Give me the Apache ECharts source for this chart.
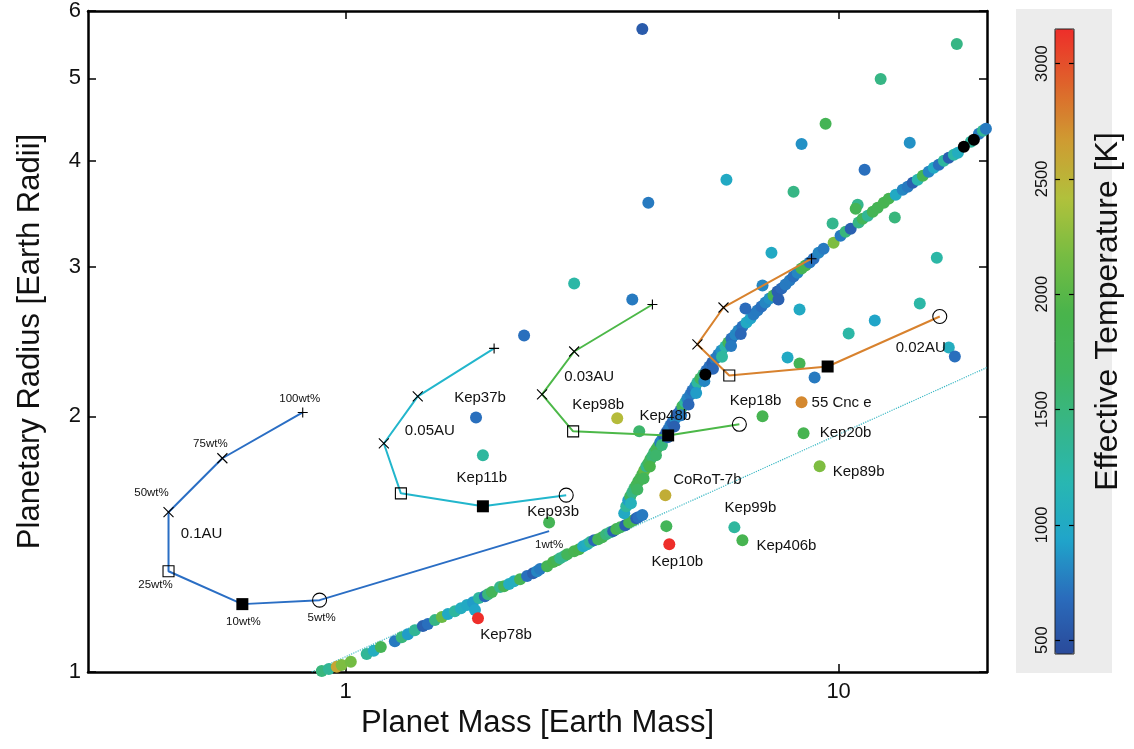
<!DOCTYPE html>
<html>
<head>
<meta charset="utf-8">
<script src="https://cdn.jsdelivr.net/npm/echarts@6/dist/echarts.min.js"></script>
<style>
  html, body { margin: 0; padding: 0; background: #ffffff; }
  #chart { width: 1134px; height: 749px; }
</style>
</head>
<body>
<div id="chart"></div>
<script>
// ---- Data: [mass (Earth masses), radius (Earth radii), effective temperature (K)] ----

// Low-mass branch of the simulated population (runs along the dotted relation)
const lowerBranch = [
  [0.894, 1.003, 1500], [0.924, 1.008, 1350], [0.959, 1.014, 2600], [0.981, 1.019, 2200],
  [1.024, 1.028, 2150], [1.103, 1.050, 1350], [1.140, 1.059, 1050], [1.178, 1.070, 1800],
  [1.258, 1.087, 750], [1.299, 1.099, 1500], [1.337, 1.108, 900], [1.381, 1.120, 1350],
  [1.434, 1.133, 600], [1.468, 1.139, 700], [1.517, 1.151, 1450], [1.567, 1.161, 2100],
  [1.612, 1.170, 1000], [1.665, 1.179, 1300], [1.713, 1.189, 1050], [1.762, 1.199, 1000],
  [1.812, 1.208, 900], [1.863, 1.222, 1300], [1.916, 1.228, 650], [1.944, 1.235, 1500],
  [1.980, 1.242, 1750], [2.056, 1.259, 1400], [2.095, 1.262, 1800], [2.145, 1.269, 1050],
  [2.195, 1.279, 1050], [2.258, 1.286, 1800], [2.333, 1.297, 700], [2.399, 1.307, 600],
  [2.444, 1.314, 800], [2.479, 1.322, 750], [2.562, 1.332, 1800], [2.635, 1.347, 1900],
  [2.685, 1.354, 1800], [2.723, 1.361, 1400], [2.775, 1.369, 1400], [2.814, 1.376, 1750],
  [2.907, 1.387, 1850], [2.975, 1.395, 1900], [3.032, 1.406, 1000], [3.090, 1.414, 1050],
  [3.133, 1.422, 1350], [3.192, 1.429, 650], [3.252, 1.433, 1750], [3.314, 1.441, 1800],
  [3.377, 1.453, 1500], [3.441, 1.461, 1400], [3.489, 1.465, 600], [3.539, 1.473, 1850],
  [3.606, 1.480, 1700], [3.690, 1.489, 600], [3.759, 1.500, 1800], [3.832, 1.509, 1800],
  [3.886, 1.517, 600], [3.923, 1.521, 700], [3.997, 1.530, 750]
];

// Steep branch of the simulated population (planets keeping part of their envelope)
const upperBranch = [
  [3.673, 1.538, 1000], [3.708, 1.567, 1300], [3.743, 1.593, 900], [3.778, 1.610, 1700],
  [3.814, 1.627, 1450], [3.850, 1.645, 1500], [3.886, 1.659, 1750], [3.923, 1.677, 1800],
  [3.960, 1.690, 1800], [3.997, 1.709, 1850], [4.034, 1.728, 2050], [4.073, 1.747, 1400],
  [4.111, 1.761, 1700], [4.150, 1.780, 1750], [4.188, 1.795, 1550], [4.227, 1.814, 1550],
  [4.267, 1.829, 1750], [4.306, 1.844, 1800], [4.347, 1.864, 750], [4.388, 1.879, 800],
  [4.429, 1.894, 600], [4.472, 1.915, 620], [4.512, 1.930, 700], [4.555, 1.951, 750],
  [4.598, 1.967, 650], [4.664, 1.989, 850], [4.707, 2.011, 600], [4.775, 2.032, 700],
  [4.819, 2.055, 1700], [4.887, 2.077, 1300], [4.933, 2.099, 800], [5.003, 2.122, 750],
  [5.050, 2.145, 700], [5.121, 2.169, 800], [5.170, 2.192, 1300], [5.242, 2.216, 1700],
  [5.317, 2.240, 1500], [5.392, 2.265, 700], [5.469, 2.289, 700], [5.544, 2.314, 600],
  [5.623, 2.339, 750], [5.703, 2.364, 750], [5.783, 2.390, 850], [5.892, 2.417, 1250],
  [5.975, 2.443, 1750], [6.061, 2.470, 700], [6.174, 2.496, 800], [6.262, 2.523, 800],
  [6.380, 2.551, 700], [6.502, 2.579, 1000], [6.624, 2.607, 950], [6.720, 2.636, 750],
  [6.845, 2.664, 750], [6.974, 2.693, 700], [7.106, 2.722, 800], [7.241, 2.752, 850],
  [7.377, 2.775, 1800], [7.516, 2.805, 600], [7.658, 2.828, 650], [7.803, 2.858, 750],
  [7.951, 2.889, 750], [8.101, 2.921, 700], [8.254, 2.952, 800], [8.410, 2.985, 1800],
  [8.568, 3.009, 1850], [8.733, 3.034, 750], [8.896, 3.066, 700], [9.106, 3.116, 800],
  [9.322, 3.150, 750], [9.768, 3.202, 2200], [10.09, 3.263, 750], [10.33, 3.299, 1500],
  [10.58, 3.325, 600], [10.98, 3.381, 1450], [11.19, 3.417, 1750], [11.46, 3.445, 1350],
  [11.73, 3.483, 1800], [12.00, 3.521, 1800], [12.35, 3.568, 1850], [12.64, 3.608, 1850],
  [13.06, 3.647, 1000], [13.49, 3.697, 800], [13.81, 3.727, 750], [14.14, 3.767, 600],
  [14.47, 3.798, 1200], [14.82, 3.839, 1800], [15.23, 3.881, 800], [15.60, 3.923, 1000],
  [15.97, 3.955, 700], [16.35, 3.998, 1300], [16.73, 4.031, 600], [17.13, 4.064, 1250],
  [17.46, 4.086, 1050], [18.55, 4.210, 1300], [19.26, 4.302, 750], [19.62, 4.336, 1350],
  [19.90, 4.361, 750],
  // members sitting on the flanks of the band where it is widest
  [3.790, 1.580, 1100], [3.905, 1.640, 1650], [4.020, 1.690, 1750], [4.140, 1.745, 1900],
  [4.260, 1.800, 1600], [4.380, 1.850, 1500], [4.500, 1.890, 700], [4.640, 1.945, 600],
  [4.790, 2.005, 750], [4.960, 2.065, 650], [5.140, 2.130, 900], [5.340, 2.200, 800],
  [5.560, 2.275, 650], [5.800, 2.350, 1300], [6.050, 2.420, 750], [6.330, 2.500, 650]
];

// Population members without a temperature (drawn in black)
const noTemperature = [
  [17.95, 4.153], [18.81, 4.232], [5.366, 2.240]
];

// Other observed planets
const fieldPlanets = [
  [3.997, 5.715, 560], [17.37, 5.488, 1450], [12.17, 4.991, 1450], [9.409, 4.420, 1800],
  [8.410, 4.185, 850], [13.94, 4.198, 850], [11.29, 3.903, 700], [5.921, 3.798, 1000],
  [8.101, 3.677, 1450], [4.111, 3.568, 750], [10.93, 3.549, 1400], [10.83, 3.511, 1800],
  [9.723, 3.372, 1400], [13.00, 3.427, 1500], [7.307, 3.116, 1000], [15.82, 3.074, 1250],
  [7.008, 2.851, 800], [3.814, 2.745, 750], [2.907, 2.867, 1250], [2.301, 2.489, 700],
  [6.471, 2.679, 680], [8.331, 2.672, 1000], [10.48, 2.503, 1250], [11.84, 2.593, 950],
  [14.61, 2.715, 1250], [16.73, 2.410, 1050], [17.21, 2.352, 700], [7.878, 2.346, 1000],
  [8.331, 2.308, 1800], [8.938, 2.222, 750], [7.551, 2.745, 600], [4.472, 1.485, 1750],
  [1.829, 1.183, 950]
];

// Named planets
const planetNames  = ['Kep37b', 'Kep11b', 'Kep93b', 'Kep98b', 'Kep48b', 'Kep18b', '55 Cnc e',
                      'Kep20b', 'Kep89b', 'CoRoT-7b', 'Kep99b', 'Kep406b', 'Kep10b', 'Kep78b'];
const planetMass   = [1.838, 1.898, 2.586, 3.555, 3.940, 7.008, 8.410, 8.489, 9.151, 4.451, 6.145, 6.380, 4.534, 1.855];
const planetRadius = [1.994, 1.799, 1.500, 1.989, 1.920, 2.000, 2.077, 1.910, 1.747, 1.615, 1.480, 1.429, 1.414, 1.157];
const planetTeff   = [700, 1300, 1800, 2450, 1600, 1850, 2750, 1850, 2200, 2550, 1300, 1850, 3150, 3150];

// Evolution tracks for different orbital distances, ordered by water fraction
const waterFractions = ['100wt%', '75wt%', '50wt%', '25wt%', '10wt%', '5wt%', '1wt%'];
const track01Mass    = [0.818, 0.562, 0.437, 0.437, 0.617, 0.885, 2.586];
const track01Radius  = [2.021, 1.785, 1.542, 1.314, 1.202, 1.215, 1.465];
const track005Mass   = [2.000, 1.400, 1.195, 1.294, 1.898, 2.801];
const track005Radius = [2.404, 2.111, 1.858, 1.623, 1.567, 1.615];
const track003Mass   = [4.190, 2.907, 2.502, 2.893, 4.510, 6.290];
const track003Radius = [2.708, 2.384, 2.122, 1.920, 1.899, 1.957];
const track002Mass   = [8.810, 5.840, 5.170, 6.000, 9.500, 16.04];
const track002Radius = [3.066, 2.686, 2.430, 2.234, 2.289, 2.621];
const trackNames     = ['0.1AU', '0.05AU', '0.03AU', '0.02AU'];

// Rocky mass-radius relation (dotted)
const rockyMass   = [0.853, 20];
const rockyRadius = [1.0, 2.283];

// Axis ticks
const massTicks   = [1, 10];
const radiusTicks = [1, 2, 3, 4, 5, 6];
const teffTicks   = [500, 1000, 1500, 2000, 2500, 3000];
const teffRange   = [440, 3150];

// ---- Styling ----
const FONT = "'Liberation Sans', Arial, Helvetica, sans-serif";
const INK = '#111111';
const tempColors = ['#2a4a9a', '#2a6cbc', '#20a4ca', '#28b7b2', '#36b689', '#40b55f',
                    '#49b44b', '#76bc42', '#b0c13c', '#ce9d32', '#de652b', '#ee2e2a'];
const trackColors = ['#2a6ec4', '#22b6cc', '#4cb848', '#d8822e'];

const PLUS  = 'path://M0,5L10,5M5,0L5,10';
const CROSS = 'path://M0,0L10,10M10,0L0,10';
const stroke = { color: 'transparent', borderColor: '#000', borderWidth: 1.1 };
const markerStyles = [
  { symbol: PLUS,     symbolSize: 10, itemStyle: stroke },
  { symbol: CROSS,    symbolSize: 10, itemStyle: stroke },
  { symbol: CROSS,    symbolSize: 10, itemStyle: stroke },
  { symbol: 'rect',   symbolSize: 11, itemStyle: stroke },
  { symbol: 'rect',   symbolSize: 12, itemStyle: { color: '#000', borderWidth: 0 } },
  { symbol: 'circle', symbolSize: 14, itemStyle: stroke },
  { symbol: 'none',   symbolSize: 0 }
];

// Label placement relative to the marks they annotate (pixels)
const planetLabelOffset = {
  'Kep37b': [4, -20], 'Kep11b': [-1, 22], 'Kep93b': [4, -11], 'Kep98b': [-19, -13],
  'Kep48b': [26, -15], 'Kep18b': [-7, -15], '55 Cnc e': [40, 1], 'Kep20b': [42, 0],
  'Kep89b': [39, 6], 'CoRoT-7b': [42, -15], 'Kep99b': [16, -20], 'Kep406b': [44, 6],
  'Kep10b': [8, 18], 'Kep78b': [28, 17]
};
const waterLabelOffset = [[-3, -14], [-12, -14], [-17, -19], [-13, 14], [1, 18], [2, 18], [0, 14]];
const trackLabelAnchor = [ { idx: 2, offset: [33, 22] }, { idx: 2, offset: [46, -13] },
                           { idx: 1, offset: [15, 25] }, { idx: 5, offset: [-19, 31] } ];

const tracks = [
  [track01Mass, track01Radius], [track005Mass, track005Radius],
  [track003Mass, track003Radius], [track002Mass, track002Radius]
];

function trackSeries(t, color) {
  const [masses, radii] = t;
  return {
    type: 'line', xAxisIndex: 0, yAxisIndex: 0, z: 6, silent: true,
    lineStyle: { color: color, width: 2 },
    itemStyle: { color: color },
    showSymbol: true, showAllSymbol: true,
    data: masses.map((m, i) => Object.assign({ value: [m, radii[i]] }, markerStyles[i]))
  };
}

const annotationData = [];
track01Mass.forEach((m, i) => {
  annotationData.push({
    value: [m, track01Radius[i]],
    label: { formatter: waterFractions[i], offset: waterLabelOffset[i], fontSize: 11.5 }
  });
});
trackNames.forEach((name, k) => {
  const a = trackLabelAnchor[k];
  annotationData.push({
    value: [tracks[k][0][a.idx], tracks[k][1][a.idx]],
    label: { formatter: name, offset: a.offset, fontSize: 15 }
  });
});

const namedData = planetNames.map((n, i) => ({
  name: n,
  value: [planetMass[i], planetRadius[i], planetTeff[i]],
  label: { show: true, formatter: n, position: 'inside', offset: planetLabelOffset[n] }
}));

const dotSeries = (data, z) => ({
  type: 'scatter', xAxisIndex: 0, yAxisIndex: 0, symbol: 'circle', symbolSize: 12,
  z: z, silent: true, itemStyle: { opacity: 1 }, data: data
});

const chart = echarts.init(document.getElementById('chart'), null, { renderer: 'canvas' });

chart.setOption({
  animation: false,
  backgroundColor: '#ffffff',
  textStyle: { fontFamily: FONT, color: INK },
  grid: [
    { left: 88, right: 147, top: 10, bottom: 77 },
    { left: 1055, top: 29, width: 19, height: 625, show: false }
  ],
  xAxis: [
    {
      type: 'log', logBase: 10, gridIndex: 0, min: 0.3, max: 20, position: 'bottom',
      axisLine: { show: true, lineStyle: { color: '#000', width: 2.5 } },
      axisTick: { show: true, inside: true, length: 8, customValues: massTicks, lineStyle: { color: '#000', width: 1.5 } },
      axisLabel: { show: true, customValues: massTicks, fontSize: 22, color: INK, margin: 9, fontFamily: FONT },
      minorTick: { show: false }, splitLine: { show: false },
      name: 'Planet Mass [Earth Mass]', nameLocation: 'middle', nameGap: 33,
      nameTextStyle: { fontSize: 31, color: INK, fontFamily: FONT }
    },
    {
      type: 'log', logBase: 10, gridIndex: 0, min: 0.3, max: 20, position: 'top',
      axisLine: { show: true, lineStyle: { color: '#000', width: 2.5 } },
      axisTick: { show: true, inside: true, length: 8, customValues: massTicks, lineStyle: { color: '#000', width: 1.5 } },
      axisLabel: { show: false }, splitLine: { show: false }
    },
    { type: 'value', gridIndex: 1, min: 0, max: 1, show: false }
  ],
  yAxis: [
    {
      type: 'log', logBase: 10, gridIndex: 0, min: 1, max: 6, position: 'left',
      axisLine: { show: true, lineStyle: { color: '#000', width: 2.5 } },
      axisTick: { show: true, inside: true, length: 8, customValues: radiusTicks, lineStyle: { color: '#000', width: 1.5 } },
      axisLabel: { show: true, customValues: radiusTicks, fontSize: 22, color: INK, margin: 7, fontFamily: FONT },
      minorTick: { show: false }, splitLine: { show: false },
      name: 'Planetary Radius [Earth Radii]', nameLocation: 'middle', nameRotate: 90, nameGap: 42,
      nameTextStyle: { fontSize: 31, color: INK, fontFamily: FONT }
    },
    {
      type: 'log', logBase: 10, gridIndex: 0, min: 1, max: 6, position: 'right',
      axisLine: { show: true, lineStyle: { color: '#000', width: 2.5 } },
      axisTick: { show: true, inside: true, length: 8, customValues: radiusTicks, lineStyle: { color: '#000', width: 1.5 } },
      axisLabel: { show: false }, splitLine: { show: false }
    },
    {
      type: 'value', gridIndex: 1, min: teffRange[0], max: teffRange[1], position: 'left', z: 10,
      axisLine: { show: false },
      axisTick: { show: true, inside: true, length: 5, customValues: teffTicks, lineStyle: { color: '#000', width: 1.2 } },
      axisLabel: { show: true, customValues: teffTicks, rotate: 90, fontSize: 16.5, color: INK, margin: 4,
                   fontFamily: FONT, formatter: v => String(Math.round(v)) },
      splitLine: { show: false }
    },
    {
      type: 'value', gridIndex: 1, min: teffRange[0], max: teffRange[1], position: 'right', z: 10,
      axisLine: { show: false },
      axisTick: { show: true, inside: true, length: 5, customValues: teffTicks, lineStyle: { color: '#000', width: 1.2 } },
      axisLabel: { show: false }, splitLine: { show: false },
      name: 'Effective Temperature [K]', nameLocation: 'middle', nameRotate: 90, nameGap: 18,
      nameTextStyle: { fontSize: 32, color: INK, fontFamily: FONT, padding: [0, 0, 0, 60] }
    }
  ],
  visualMap: {
    type: 'continuous', min: teffRange[0], max: teffRange[1], dimension: 2,
    seriesIndex: [1, 2, 3, 4], inRange: { color: tempColors },
    calculable: false, hoverLink: false, orient: 'vertical', show: true,
    left: 1055, top: 29, itemWidth: 19, itemHeight: 625, padding: 0, z: 4
  },
  graphic: [
    { type: 'rect', z: -10, silent: true, shape: { x: 1016, y: 9, width: 96, height: 664 }, style: { fill: '#ececec' } },
    { type: 'rect', z: 100, silent: true, shape: { x: 1055, y: 29, width: 19, height: 625 }, style: { fill: 'none', stroke: '#222', lineWidth: 1 } }
  ],
  series: [
    {
      type: 'line', xAxisIndex: 0, yAxisIndex: 0, z: 1, silent: true, symbol: 'none',
      lineStyle: { color: '#3ab8c4', width: 1.2, type: 'dotted' },
      data: rockyMass.map((m, i) => [m, rockyRadius[i]])
    },
    dotSeries(lowerBranch, 2),
    dotSeries(upperBranch, 2),
    dotSeries(fieldPlanets, 3),
    Object.assign(dotSeries(namedData, 3), {
      label: { show: true, position: 'inside', fontSize: 15, color: INK, fontFamily: FONT }
    }),
    {
      type: 'scatter', xAxisIndex: 0, yAxisIndex: 0, symbol: 'circle', symbolSize: 12, z: 2,
      silent: true, itemStyle: { color: '#000', opacity: 1 }, data: noTemperature
    },
    trackSeries(tracks[0], trackColors[0]),
    trackSeries(tracks[1], trackColors[1]),
    trackSeries(tracks[2], trackColors[2]),
    trackSeries(tracks[3], trackColors[3]),
    {
      type: 'scatter', xAxisIndex: 0, yAxisIndex: 0, symbol: 'circle', symbolSize: 1, z: 7,
      silent: true, itemStyle: { color: 'transparent', opacity: 1 },
      label: { show: true, position: 'inside', color: INK, fontFamily: FONT },
      data: annotationData
    }
  ]
});
</script>
</body>
</html>
